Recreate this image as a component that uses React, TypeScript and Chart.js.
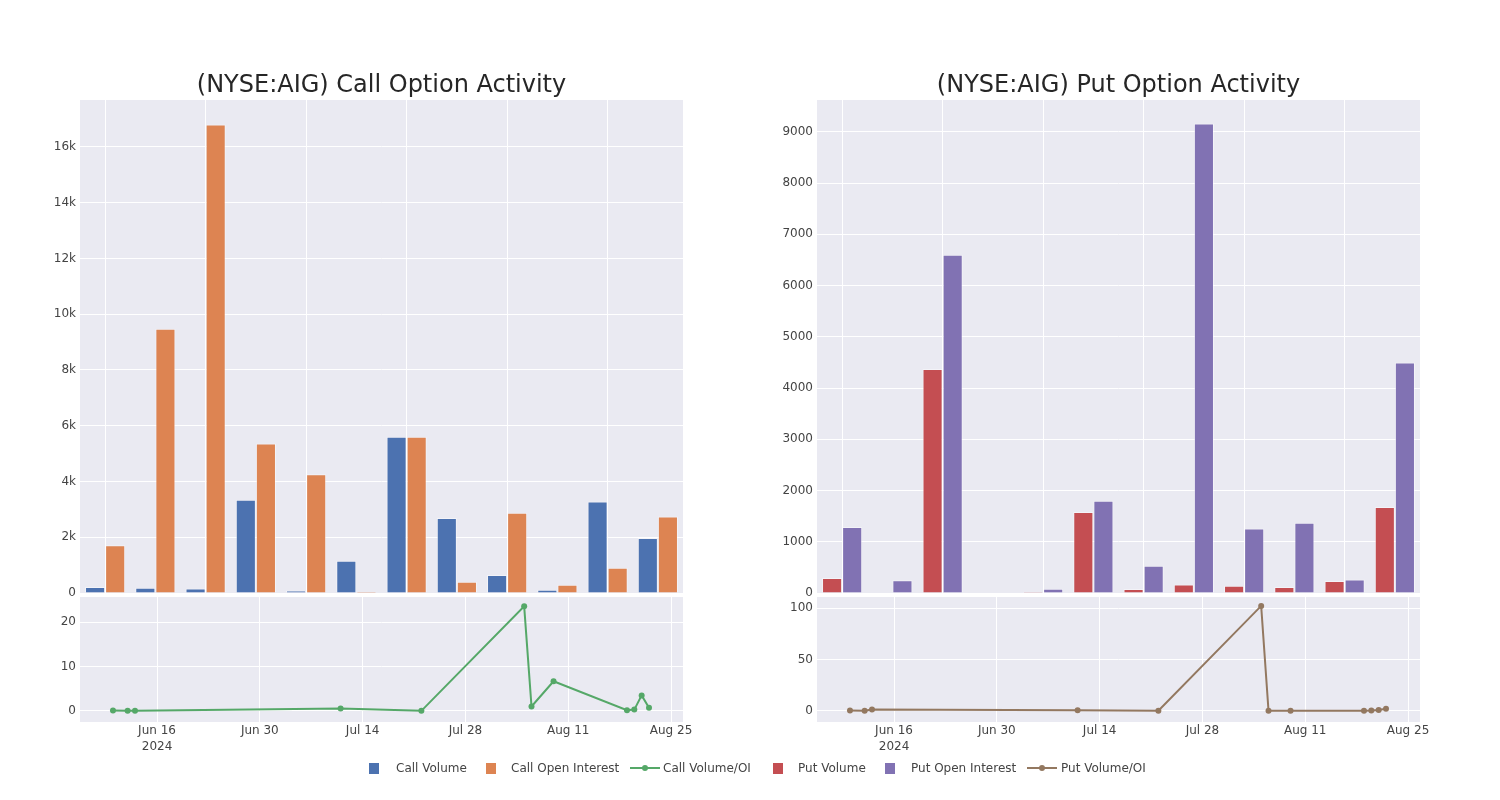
import React, { useEffect, useRef } from 'react';
import { Chart, registerables } from 'chart.js';

Chart.register(...registerables);

// ---------- data ----------
const categories = [
  '2024-06-10', '2024-06-12', '2024-06-13', '2024-07-11', '2024-07-22', '2024-08-05',
  '2024-08-06', '2024-08-09', '2024-08-19', '2024-08-20', '2024-08-21', '2024-08-22',
];
const callVolume = [215, 185, 160, 3340, 90, 1160, 5600, 2690, 650, 120, 3280, 1970];
const callOpenInterest = [1710, 9480, 16800, 5360, 4260, 49, 5600, 400, 2880, 300, 910, 2740];
const putVolume = [295, 5, 4370, 8, 22, 1580, 80, 165, 140, 115, 235, 1680];
const putOpenInterest = [1290, 250, 6600, 10, 85, 1800, 530, 9160, 1260, 1370, 265, 4500];
const ratioDates = categories;
const callVolOI = [0.12, 0.02, 0.01, 0.55, 0.02, 23.6, 1.0, 6.7, 0.15, 0.3, 3.5, 0.7];
const putVolOI = [0.2, 0.02, 1.3, 0.6, 0.1, 102.3, 0.05, 0.1, 0.1, 0.2, 0.7, 2.0];

const callTicks = [0, 2000, 4000, 6000, 8000, 10000, 12000, 14000, 16000];
const putTicks = [0, 1000, 2000, 3000, 4000, 5000, 6000, 7000, 8000, 9000];
const callRatioTicks = [0, 10, 20];
const putRatioTicks = [0, 50, 100];
const dateTicks = ['2024-06-16', '2024-06-30', '2024-07-14', '2024-07-28', '2024-08-11', '2024-08-25'];
const monthNames = ['Jan', 'Feb', 'Mar', 'Apr', 'May', 'Jun', 'Jul', 'Aug', 'Sep', 'Oct', 'Nov', 'Dec'];

const COLORS = {
  callVol: '#4c72b0',
  callOI: '#dd8452',
  callRatio: '#55a868',
  putVol: '#c44e52',
  putOI: '#8172b3',
  putRatio: '#937860',
};

Chart.defaults.font.family = '"DejaVu Sans", sans-serif';
Chart.defaults.font.size = 12;
Chart.defaults.color = '#444';

const toDay = (s: string) => Date.parse(s + 'T00:00:00Z') / 86400000;
const dayLabel = (v: number) => {
  const d = new Date(v * 86400000);
  return `${monthNames[d.getUTCMonth()]} ${d.getUTCDate()}`;
};

const plotBg = {
  id: 'plotBg',
  beforeDraw(chart: any) {
    const { ctx, chartArea: a } = chart;
    ctx.save();
    ctx.fillStyle = '#eaeaf2';
    ctx.fillRect(a.left, a.top, a.right - a.left, a.bottom - a.top);
    ctx.restore();
  },
};

const kFmt = (v: number) => (v === 0 ? '0' : `${v / 1000}k`);
const plainFmt = (v: number) => `${v}`;

function barConfig(
  title: string,
  s1: number[],
  s2: number[],
  names: string[],
  colors: string[],
  ticks: number[],
  max: number,
  fmt: (v: number) => string,
): any {
  return {
    type: 'bar',
    data: {
      labels: categories,
      datasets: [
        {
          label: names[0], data: s1, backgroundColor: colors[0],
          borderColor: 'rgba(255,255,255,0.45)', borderWidth: 1,
          categoryPercentage: 0.8, barPercentage: 1,
        },
        {
          label: names[1], data: s2, backgroundColor: colors[1],
          borderColor: 'rgba(255,255,255,0.45)', borderWidth: 1,
          categoryPercentage: 0.8, barPercentage: 1,
        },
      ],
    },
    options: {
      responsive: false,
      animation: false,
      devicePixelRatio: 1,
      layout: { padding: { left: 0, right: 80, top: 0, bottom: 27 } },
      plugins: {
        legend: { display: false },
        tooltip: { enabled: false },
        title: {
          display: true,
          fullSize: false,
          text: title,
          color: '#262626',
          font: { size: 24, weight: 'normal', lineHeight: 1.2 },
          padding: { top: 71.2, bottom: 0 },
        },
      },
      scales: {
        x: {
          offset: true,
          grid: {
            offset: false,
            drawTicks: false,
            color: (c: any) => (c.index % 2 === 0 ? '#ffffff' : 'rgba(0,0,0,0)'),
            lineWidth: 1,
          },
          border: { display: false },
          ticks: { display: false },
          afterFit: (s: any) => { s.height = 0; },
        },
        y: {
          min: 0,
          max,
          grid: { color: '#ffffff', drawTicks: false, lineWidth: 1 },
          border: { display: false },
          ticks: { padding: 4, color: '#444', callback: (v: number) => fmt(v) },
          afterBuildTicks: (s: any) => { s.ticks = ticks.map((v) => ({ value: v })); },
          afterFit: (s: any) => { s.width = 80; },
        },
      },
    },
    plugins: [plotBg],
  };
}

function lineConfig(name: string, values: number[], color: string, ticks: number[], min: number, max: number): any {
  const xMin = toDay(dateTicks[0]) - 10.49;
  const xMax = toDay(dateTicks[dateTicks.length - 1]) + 1.63;
  return {
    type: 'line',
    data: {
      datasets: [
        {
          label: name,
          data: ratioDates.map((d, i) => ({ x: toDay(d), y: values[i] })),
          borderColor: color,
          backgroundColor: color,
          borderWidth: 2,
          pointRadius: 3,
          pointBorderWidth: 0,
          pointBackgroundColor: color,
          tension: 0,
        },
      ],
    },
    options: {
      responsive: false,
      animation: false,
      devicePixelRatio: 1,
      layout: { padding: { left: 0, right: 80, top: 37, bottom: 0 } },
      plugins: { legend: { display: false }, tooltip: { enabled: false }, title: { display: false } },
      scales: {
        x: {
          type: 'linear',
          min: xMin,
          max: xMax,
          grid: { color: '#ffffff', drawTicks: false, lineWidth: 1 },
          border: { display: false },
          ticks: {
            padding: 1,
            color: '#444',
            maxRotation: 0,
            autoSkip: false,
            font: { size: 12, lineHeight: 1.35 },
            callback: (v: number, i: number) => (i === 0 ? [dayLabel(v), '2024'] : dayLabel(v)),
          },
          afterBuildTicks: (s: any) => { s.ticks = dateTicks.map((d) => ({ value: toDay(d) })); },
          afterFit: (s: any) => { s.height = 78; },
        },
        y: {
          min,
          max,
          grid: { color: '#ffffff', drawTicks: false, lineWidth: 1 },
          border: { display: false },
          ticks: { padding: 4, color: '#444' },
          afterBuildTicks: (s: any) => { s.ticks = ticks.map((v) => ({ value: v })); },
          afterFit: (s: any) => { s.width = 80; },
        },
      },
    },
    plugins: [plotBg],
  };
}

function ChartBox({ left, top, width, height, make }: { left: number; top: number; width: number; height: number; make: () => any }) {
  const ref = useRef<HTMLCanvasElement>(null);
  useEffect(() => {
    const chart = new Chart(ref.current as HTMLCanvasElement, make());
    return () => chart.destroy();
  }, []);
  return (
    <canvas
      ref={ref}
      width={width}
      height={height}
      style={{ position: 'absolute', left, top, width, height, display: 'block' }}
    />
  );
}

const legendItems = [
  { label: 'Call Volume', color: COLORS.callVol, kind: 'box', iconLeft: 369, textLeft: 396 },
  { label: 'Call Open Interest', color: COLORS.callOI, kind: 'box', iconLeft: 486, textLeft: 511 },
  { label: 'Call Volume/OI', color: COLORS.callRatio, kind: 'line', iconLeft: 630, textLeft: 663 },
  { label: 'Put Volume', color: COLORS.putVol, kind: 'box', iconLeft: 773, textLeft: 798 },
  { label: 'Put Open Interest', color: COLORS.putOI, kind: 'box', iconLeft: 885, textLeft: 911 },
  { label: 'Put Volume/OI', color: COLORS.putRatio, kind: 'line', iconLeft: 1027, textLeft: 1061 },
];

function Legend() {
  const cy = 768;
  return (
    <>
      {legendItems.map((it) => (
        <React.Fragment key={it.label}>
          {it.kind === 'box' ? (
            <div style={{ position: 'absolute', left: it.iconLeft, top: cy - 5, width: 10, height: 11, background: it.color }} />
          ) : (
            <svg style={{ position: 'absolute', left: it.iconLeft, top: cy - 5 }} width={30} height={10}>
              <line x1={0} y1={5} x2={30} y2={5} stroke={it.color} strokeWidth={2} />
              <circle cx={15} cy={5} r={3} fill={it.color} />
            </svg>
          )}
          <div
            style={{
              position: 'absolute', left: it.textLeft, top: cy - 8, height: 16, lineHeight: '16px',
              fontFamily: '"DejaVu Sans", sans-serif', fontSize: 12, color: '#444', whiteSpace: 'nowrap',
            }}
          >
            {it.label}
          </div>
        </React.Fragment>
      ))}
    </>
  );
}

export default function App() {
  return (
    <div style={{ position: 'fixed', left: 0, top: 0, width: 1500, height: 800, background: '#ffffff', overflow: 'hidden' }}>
      <ChartBox
        left={0} top={0} width={763} height={620}
        make={() => barConfig('(NYSE:AIG) Call Option Activity', callVolume, callOpenInterest,
          ['Call Volume', 'Call Open Interest'], [COLORS.callVol, COLORS.callOI], callTicks, 17680, kFmt)}
      />
      <ChartBox
        left={737} top={0} width={763} height={620}
        make={() => barConfig('(NYSE:AIG) Put Option Activity', putVolume, putOpenInterest,
          ['Put Volume', 'Put Open Interest'], [COLORS.putVol, COLORS.putOI], putTicks, 9620, plainFmt)}
      />
      <ChartBox
        left={0} top={560} width={763} height={240}
        make={() => lineConfig('Call Volume/OI', callVolOI, COLORS.callRatio, callRatioTicks, -2.5, 25.7)}
      />
      <ChartBox
        left={737} top={560} width={763} height={240}
        make={() => lineConfig('Put Volume/OI', putVolOI, COLORS.putRatio, putRatioTicks, -10.9, 111)}
      />
      <Legend />
    </div>
  );
}
